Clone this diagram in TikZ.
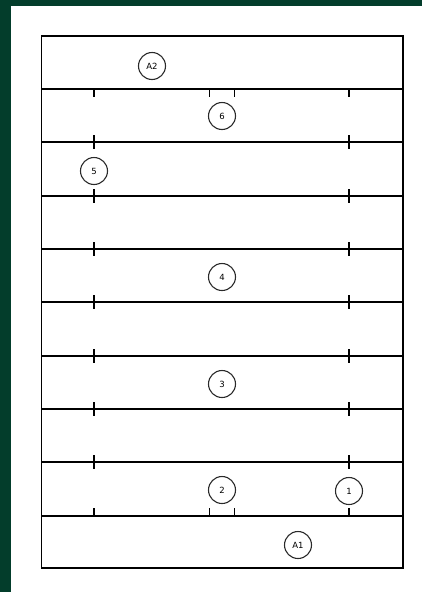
\documentclass[tikz,border=0pt]{standalone}
\usepackage{fontspec}
\setmainfont{DejaVu Sans}
\definecolor{frame}{HTML}{033D2B}
\definecolor{ring}{HTML}{2A2A2A}
\begin{document}
\begin{tikzpicture}[x=1pt,y=-1pt,
  lane/.style={line width=1.6pt,black},
  tick/.style={line width=1.6pt,black},
  marker/.style={circle,draw=ring,line width=1.1pt,minimum size=27pt,inner sep=0pt,font=\fontsize{8.5}{9}\selectfont,fill=white}]
\useasboundingbox (0,0) rectangle (422,592);
\fill[frame] (0,0) rectangle (422,6);
\fill[frame] (0,0) rectangle (11,592);
% outer frame
\draw[lane] (41.5,36) rectangle (403,568);
% horizontal lines
\foreach \y in {89,142,196,249,302,356,409,462,516}
  \draw[lane] (41.5,\y) -- (403,\y);
% ticks on first line (down)
\foreach \x in {94,209.5,234.5,349}
  \draw[tick] (\x,89) -- (\x,97);
% ticks on last line (up)
\foreach \x in {94,209.5,234.5,349}
  \draw[tick] (\x,508) -- (\x,516);
% crossing ticks
\foreach \y in {142,196,249,302,356,409,462}
  \foreach \x in {94,349}
    \draw[tick] (\x,\y-7) -- (\x,\y+7);
% markers
\node[marker] (a2) at (152,66) {A2};
\node[marker] (m6) at (222,116) {6};
\node[marker] (m5) at (94,171) {5};
\node[marker] (m4) at (222,277) {4};
\node[marker] (m3) at (222,384) {3};
\node[marker] (m2) at (222,490) {2};
\node[marker] (m1) at (349,491) {1};
\node[marker] (a1) at (298,545) {A1};
\end{tikzpicture}
\end{document}
